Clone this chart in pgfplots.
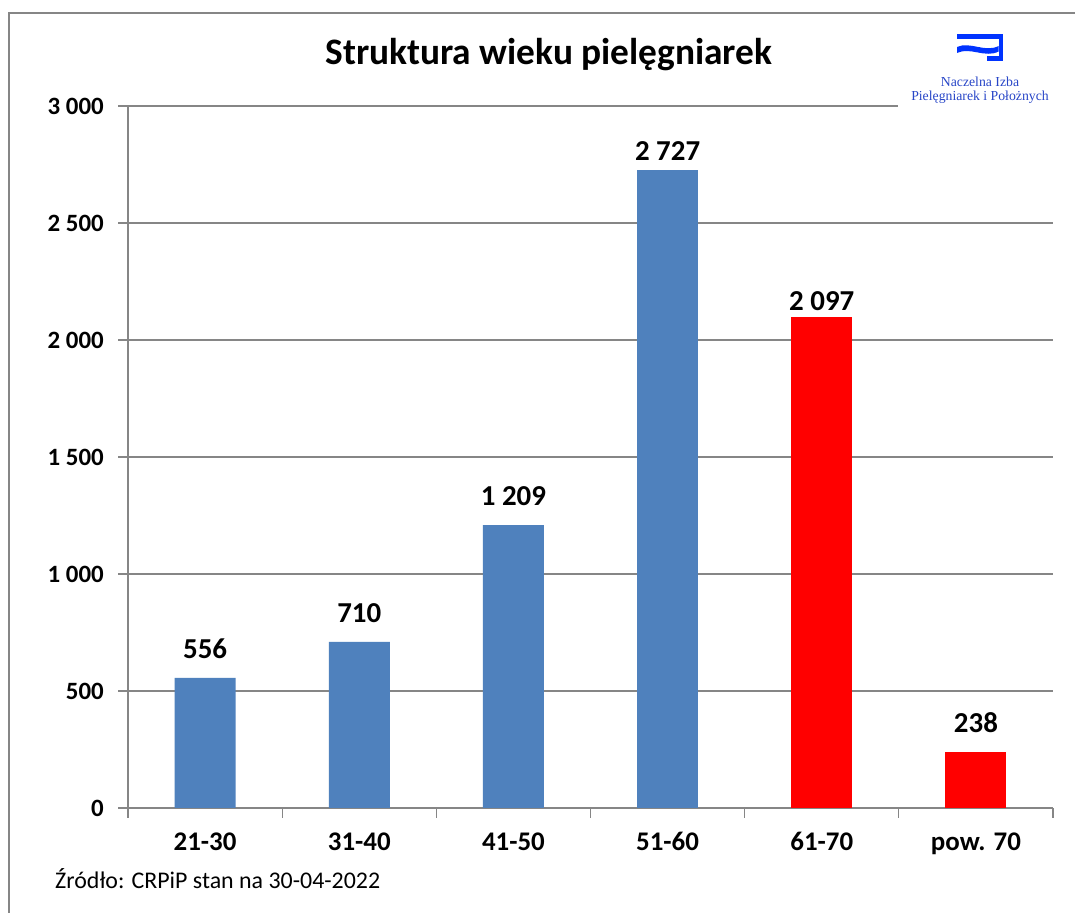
\documentclass[border=0pt]{standalone}
\usepackage{fontspec}
\setmainfont{Carlito}
\newfontfamily\timesf{Liberation Serif}
\usepackage{pgfplots}
\pgfplotsset{compat=1.18}
\usepackage{pgfplotstable}
\definecolor{barblue}{RGB}{79,129,189}
\definecolor{barred}{RGB}{255,0,0}
\definecolor{gridgray}{RGB}{134,134,134}
\definecolor{logoblue}{RGB}{0,51,255}
\definecolor{logotext}{RGB}{40,70,200}

\pgfplotstableread{
x y label
0 556 556
1 710 710
2 1209 {1 209}
}\blueA
\pgfplotstableread{
x y label
3 2727 {2 727}
}\blueB
\pgfplotstableread{
x y label
4 2097 {2 097}
}\redB
\pgfplotstableread{
x y label
5 238 238
}\redA

\begin{document}
\begin{tikzpicture}[x=1bp,y=1bp]
\useasboundingbox (0,0) rectangle (1075,913);
\fill[white] (0,0) rectangle (1075,913);
\draw[gridgray, line width=2bp] (8.5,0) -- (8.5,913-13) -- (1075,913-13);
\begin{axis}[
  at={(128bp,105bp)}, anchor=south west,
  scale only axis, width=925bp, height=702bp,
  xmin=-0.5, xmax=5.5, ymin=0, ymax=3000,
  ybar, bar width=61bp, bar shift=0pt,
  axis x line*=bottom, axis y line*=left,
  axis line style={-, draw=gridgray, line width=1.3bp},
  ytick={0,500,...,3000},
  yticklabels={0,500,1 000,1 500,2 000,2 500,3 000},
  xtick={0,...,5},
  xticklabels={21-30,31-40,41-50,51-60,61-70,pow. 70},
  minor xtick={-0.5,0.5,...,5.5},
  tick align=outside,
  major tick length=10bp, minor tick length=10bp,
  major x tick style={draw=none},
  tick style={draw=gridgray, line width=1.3bp},
  ymajorgrids, major grid style={draw=gridgray, line width=1.3bp},
  yticklabel style={font=\fontsize{25}{30}\selectfont\bfseries, text=black, inner sep=0pt, xshift=-14bp},
  xticklabel style={font=\fontsize{27}{32}\selectfont\bfseries, text=black, inner sep=0pt, anchor=base, yshift=-33bp},
  nodes near coords, point meta=explicit symbolic,
  every node near coord/.append style={font=\fontsize{29}{34}\selectfont\bfseries, inner sep=0pt, anchor=south, text=black},
  clip=false,
]
\addplot[fill=barblue, draw=none, bar shift=0pt, every node near coord/.append style={yshift=19bp}] table[x=x, y=y, meta=label] {\blueA};
\addplot[fill=barblue, draw=none, bar shift=0pt, every node near coord/.append style={yshift=9bp}] table[x=x, y=y, meta=label] {\blueB};
\addplot[fill=barred, draw=none, bar shift=0pt, every node near coord/.append style={yshift=6bp}] table[x=x, y=y, meta=label] {\redB};
\addplot[fill=barred, draw=none, bar shift=0pt, every node near coord/.append style={yshift=19bp}] table[x=x, y=y, meta=label] {\redA};
\end{axis}
\node[font=\fontsize{37.5}{44}\selectfont\bfseries, anchor=base, inner sep=0pt] at (549,913-64.5) {Struktura wieku pielęgniarek};
\node[font=\fontsize{24}{28}\selectfont, anchor=base west, inner sep=0pt] at (55,913-889) {Źródło: CRPiP stan na 30-04-2022};
% logo
\fill[white] (898,913-112) rectangle (1070,913-22);
\fill[logoblue] (957,913-34.5) rectangle (1003,913-39.5);
\fill[logoblue] (998.5,913-34.5) rectangle (1003,913-61);
\fill[logoblue] (987,913-56.5) rectangle (1003,913-61);
\fill[logoblue] (957,913-47) .. controls (970,913-41) and (985,913-53) .. (998.6,913-46) -- (998.6,913-51.5) .. controls (985,913-58.5) and (970,913-46.5) .. (957,913-53) -- cycle;
\node[font=\timesf\fontsize{13.8}{16}\selectfont, text=logotext, anchor=base, inner sep=0pt] at (980,913-87) {Naczelna Izba};
\node[font=\timesf\fontsize{13.8}{16}\selectfont, text=logotext, anchor=base, inner sep=0pt] at (980,913-101) {Pielęgniarek i Położnych};
\end{tikzpicture}
\end{document}
